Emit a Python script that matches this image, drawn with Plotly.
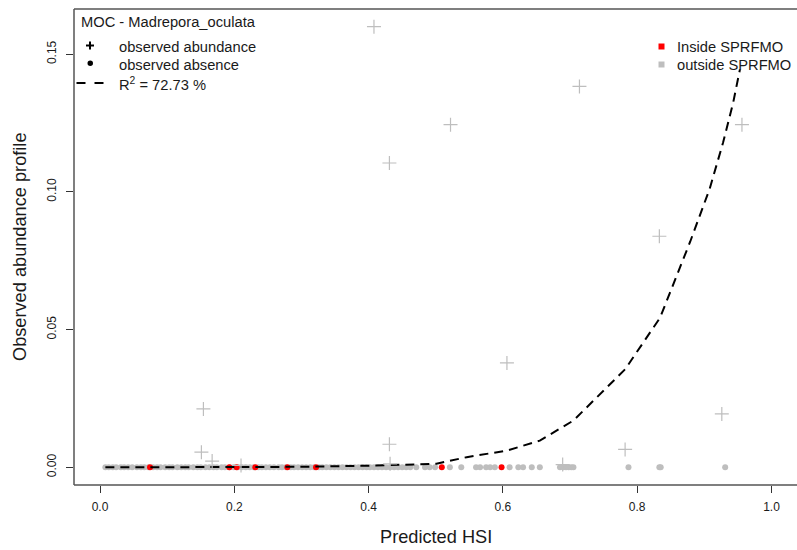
import plotly.graph_objects as go

# ---------------- data ----------------
abund_x = [0.408, 0.714, 0.522, 0.956, 0.431, 0.833, 0.606, 0.926, 0.431, 0.782,
           0.154, 0.151, 0.167, 0.210, 0.432, 0.689]
abund_y = [0.1600, 0.1383, 0.1244, 0.1244, 0.1105, 0.0839, 0.0379, 0.0194, 0.0084, 0.0065,
           0.0212, 0.0055, 0.0023, 0.0007, 0.0013, 0.0010]

absence_out_x = [0.008, 0.013, 0.019, 0.024, 0.031, 0.036, 0.042, 0.048, 0.055, 0.061,
                 0.066, 0.072, 0.079, 0.085, 0.090, 0.097, 0.103, 0.108, 0.115, 0.121,
                 0.127, 0.132, 0.139, 0.145, 0.150, 0.157, 0.163, 0.169, 0.174, 0.181,
                 0.186, 0.193, 0.199, 0.205, 0.211, 0.217, 0.223, 0.229, 0.236, 0.241,
                 0.247, 0.253, 0.259, 0.266, 0.271, 0.277, 0.284, 0.289, 0.295, 0.301,
                 0.307, 0.313, 0.319, 0.326, 0.331, 0.337, 0.343, 0.349, 0.355, 0.361,
                 0.367, 0.373, 0.379, 0.385, 0.391, 0.397, 0.402, 0.408, 0.414, 0.420,
                 0.426, 0.432, 0.438, 0.444, 0.450, 0.456, 0.462, 0.471, 0.484, 0.491,
                 0.499, 0.521, 0.538, 0.560, 0.566, 0.575, 0.581, 0.588, 0.610, 0.623,
                 0.630, 0.643, 0.655, 0.685, 0.690, 0.694, 0.698, 0.702, 0.705, 0.787,
                 0.833, 0.835, 0.931]
absence_in_x = [0.0745, 0.1926, 0.2035, 0.2313, 0.279, 0.3217, 0.509, 0.598]

curve_x = [0.008, 0.10, 0.20, 0.30, 0.40, 0.45, 0.501, 0.546, 0.606, 0.655, 0.705,
           0.782, 0.834, 0.879, 0.908, 0.928, 0.943, 0.953]
curve_y = [0.0000, 0.0000, 0.0001, 0.0002, 0.0006, 0.0009, 0.0013, 0.0037, 0.0061, 0.0097,
           0.0170, 0.0356, 0.0543, 0.0820, 0.1012, 0.1180, 0.1325, 0.1445]

x_ticks = [0.0, 0.2, 0.4, 0.6, 0.8, 1.0]
x_tick_labels = ["0.0", "0.2", "0.4", "0.6", "0.8", "1.0"]
y_ticks = [0.00, 0.05, 0.10, 0.15]
y_tick_labels = ["0.00", "0.05", "0.10", "0.15"]

species_title = "MOC - Madrepora_oculata"
r2_text = "R<sup>2</sup> = 72.73 %"

# ---------------- layout geometry (page pixels) ----------------
W, H = 797, 550
L, R, T, B = 74, 797, 9, 485  # plot box in page pixels
GRAY = "#bebebe"
FONT = "Liberation Sans, Arial, sans-serif"
TXT = "#1a1a1a"


def px(x):
    return (x - L) / (R - L)


def py(y):
    return (B - y) / (B - T)


fig = go.Figure()

fig.add_trace(go.Scatter(x=absence_out_x, y=[0] * len(absence_out_x), mode="markers",
                         marker=dict(symbol="circle", size=6, color=GRAY),
                         showlegend=False, hoverinfo="skip"))
fig.add_trace(go.Scatter(x=absence_in_x, y=[0] * len(absence_in_x), mode="markers",
                         marker=dict(symbol="circle", size=6, color="#ff0000"),
                         showlegend=False, hoverinfo="skip"))
fig.add_trace(go.Scatter(x=curve_x, y=curve_y, mode="lines",
                         line=dict(color="black", width=2, dash="9px,6px"),
                         showlegend=False, hoverinfo="skip"))
fig.add_trace(go.Scatter(x=abund_x, y=abund_y, mode="markers",
                         marker=dict(symbol="cross-thin", size=10, color=GRAY,
                                     line=dict(color=GRAY, width=1.2)),
                         showlegend=False, hoverinfo="skip"))

x0 = (L - 100) / 671.5
x1 = (R - 100) / 671.5
fig.update_xaxes(range=[x0, x1], tickvals=x_ticks, ticktext=x_tick_labels,
                 ticks="outside", ticklen=7, tickcolor="#333", showgrid=False,
                 zeroline=False, showline=False, ticklabelstandoff=4,
                 tickfont=dict(family=FONT, size=12, color=TXT))
fig.update_yaxes(range=[-0.0064, 0.1664], tickvals=y_ticks, ticktext=y_tick_labels,
                 ticks="outside", ticklen=7, tickcolor="#333", showgrid=False,
                 zeroline=False, showline=False, tickangle=-90, ticklabelstandoff=5,
                 tickfont=dict(family=FONT, size=12, color=TXT))

shapes = [
    dict(type="line", xref="paper", yref="paper", x0=0, x1=1.02, y0=1, y1=1,
         line=dict(color="#555", width=1.5)),
    dict(type="line", xref="paper", yref="paper", x0=0, x1=1.02, y0=0, y1=0,
         line=dict(color="#555", width=1.5)),
    dict(type="line", xref="paper", yref="paper", x0=0, x1=0, y0=0, y1=1,
         line=dict(color="#555", width=1.5)),
    # legend: plus
    dict(type="line", xref="paper", yref="paper", x0=px(86), x1=px(94), y0=py(45.5), y1=py(45.5),
         line=dict(color="black", width=2)),
    dict(type="line", xref="paper", yref="paper", x0=px(90), x1=px(90), y0=py(41.5), y1=py(49.5),
         line=dict(color="black", width=2)),
    # legend: dot
    dict(type="circle", xref="paper", yref="paper", x0=px(87.5), x1=px(93), y0=py(60.5), y1=py(66),
         fillcolor="black", line=dict(color="black", width=0)),
    # legend: dashed line
    dict(type="line", xref="paper", yref="paper", x0=px(76.5), x1=px(104), y0=py(83), y1=py(83),
         line=dict(color="black", width=2, dash="9px,9px")),
    # right legend squares
    dict(type="rect", xref="paper", yref="paper", x0=px(658.5), x1=px(664.5), y0=py(43.5), y1=py(49.5),
         fillcolor="#ff0000", line=dict(width=0)),
    dict(type="rect", xref="paper", yref="paper", x0=px(658.5), x1=px(664.5), y0=py(61.5), y1=py(67.5),
         fillcolor=GRAY, line=dict(width=0)),
]

ann_font = dict(family=FONT, size=14.7, color=TXT)
annotations = [
    dict(text=species_title, x=px(79), y=py(22), xref="paper", yref="paper",
         xanchor="left", yanchor="middle", showarrow=False, font=ann_font),
    dict(text="observed abundance", x=px(117), y=py(46.5), xref="paper", yref="paper",
         xanchor="left", yanchor="middle", showarrow=False, font=ann_font),
    dict(text="observed absence", x=px(117), y=py(65), xref="paper", yref="paper",
         xanchor="left", yanchor="middle", showarrow=False, font=ann_font),
    dict(text=r2_text, x=px(116.5), y=py(84), xref="paper", yref="paper",
         xanchor="left", yanchor="middle", showarrow=False, font=ann_font),
    dict(text="Inside SPRFMO", x=px(675), y=py(46.5), xref="paper", yref="paper",
         xanchor="left", yanchor="middle", showarrow=False, font=ann_font),
    dict(text="outside SPRFMO", x=px(675), y=py(65), xref="paper", yref="paper",
         xanchor="left", yanchor="middle", showarrow=False, font=ann_font),
    dict(text="Predicted HSI", x=px(436), y=py(537), xref="paper", yref="paper",
         xanchor="center", yanchor="middle", showarrow=False,
         font=dict(family=FONT, size=18.2, color=TXT)),
    dict(text="Observed abundance profile", x=px(20), y=py(247), xref="paper", yref="paper",
         xanchor="center", yanchor="middle", showarrow=False, textangle=-90,
         font=dict(family=FONT, size=18.2, color=TXT)),
]

fig.update_layout(width=W, height=H,
                  margin=dict(l=L, r=W - R, t=T, b=H - B),
                  plot_bgcolor="white", paper_bgcolor="white",
                  shapes=shapes, annotations=annotations, showlegend=False)

fig.write_html("out.html", config={"displayModeBar": False},
               post_script="document.body.style.margin='0';"
                           "document.body.style.overflow='hidden';")
